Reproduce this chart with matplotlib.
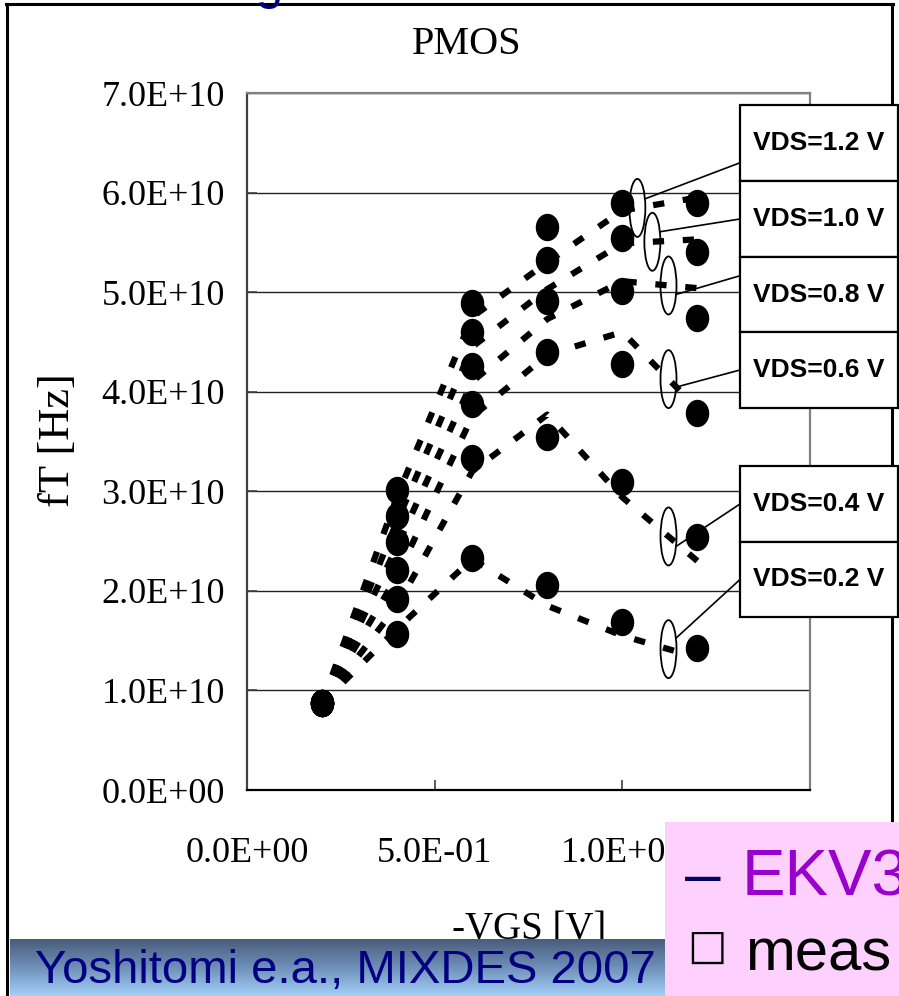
import numpy as np
import matplotlib
matplotlib.use("Agg")
import matplotlib.pyplot as plt
from matplotlib.patches import Rectangle, Ellipse, ConnectionPatch
from matplotlib.lines import Line2D
from matplotlib.path import Path
from matplotlib.ticker import FuncFormatter
from matplotlib.colors import LinearSegmentedColormap

# -VGS [V]
vgs = np.array([0.2, 0.4, 0.6, 0.8, 1.0, 1.2])
vds_labels = ["VDS=1.2 V", "VDS=1.0 V", "VDS=0.8 V", "VDS=0.6 V", "VDS=0.4 V", "VDS=0.2 V"]

# measured fT, in units of 1E10 Hz
meas_12 = [0.87, 3.01, 4.89, 5.65, 5.90, 5.90]
meas_10 = [0.87, 2.75, 4.60, 5.32, 5.54, 5.40]
meas_08 = [0.87, 2.49, 4.26, 4.91, 5.01, 4.74]
meas_06 = [0.87, 2.21, 3.88, 4.40, 4.28, 3.79]
meas_04 = [0.87, 1.92, 3.33, 3.55, 3.09, 2.54]
meas_02 = [0.87, 1.57, 2.33, 2.06, 1.69, 1.43]

# EKV3 model fT, in units of 1E10 Hz
ekv_12 = [0.87, 2.95, 4.75, 5.30, 5.82, 5.95]
ekv_10 = [0.87, 2.70, 4.45, 5.03, 5.49, 5.53]
ekv_08 = [0.87, 2.45, 4.10, 4.73, 5.11, 5.04]
ekv_06 = [0.87, 2.15, 3.75, 4.37, 4.60, 3.83]
ekv_04 = [0.87, 1.85, 3.20, 3.77, 2.94, 2.30]
ekv_02 = [0.87, 1.62, 2.32, 1.85, 1.55, 1.33]

meas = [meas_12, meas_10, meas_08, meas_06, meas_04, meas_02]
ekv = [ekv_12, ekv_10, ekv_08, ekv_06, ekv_04, ekv_02]

# -VGS where each callout ellipse sits on its model curve
callout_x = [1.04, 1.08, 1.123, 1.123, 1.123, 1.123]

W, H = 899, 996
def fx(x):
    return x / W
def fy(y):
    return 1 - y / H

serif = "Liberation Serif"
sans = "Liberation Sans"

fig = plt.figure(figsize=(W / 100, H / 100), dpi=100)
fig.patch.set_facecolor("white")

# slide frame + bit of the slide title sticking in from above
fig.add_artist(Line2D([fx(7), fx(7)], [0, fy(4)], color="black", lw=2.2, transform=fig.transFigure, zorder=1))
fig.add_artist(Line2D([fx(6), fx(893)], [fy(4), fy(4)], color="black", lw=2.2, transform=fig.transFigure, zorder=1))
fig.add_artist(Line2D([fx(892), fx(892)], [fy(4), 0], color="black", lw=2.2, transform=fig.transFigure, zorder=1))
fig.text(fx(269), fy(-1), "g", color="#000080", fontsize=35, family=sans, ha="center", va="baseline", zorder=2)

ax = fig.add_axes([fx(247), fy(790), fx(810) - fx(247), fy(93) - fy(790)])
ax.set_facecolor("none")

circ = Path.unit_circle()
dot = Path(circ.vertices * [0.85, 1.0], circ.codes)

for m, e in zip(meas, ekv):
    ax.plot(vgs, np.array(e) * 1e10, color="black", lw=4.5, dashes=(1.8, 3.0),
            dash_capstyle="butt", zorder=3)
for m, e in zip(meas, ekv):
    ax.plot(vgs, np.array(m) * 1e10, ls="none", marker=dot, ms=18.7, color="black", zorder=4)

ax.set_xlim(0, 1.5)
ax.set_ylim(0, 7e10)
ax.set_xticks([0, 0.5, 1.0, 1.5])
ax.set_yticks(np.arange(0, 7.1e10, 1e10))
fmt = FuncFormatter(lambda v, p: "%.1E" % v)
ax.xaxis.set_major_formatter(fmt)
ax.yaxis.set_major_formatter(fmt)
ax.set_axisbelow(True)
ax.yaxis.grid(True, color="#222222", lw=1.0)
ax.tick_params(axis="y", direction="in", length=7, width=1.2, color="#404040", pad=16, labelsize=26)
ax.tick_params(axis="x", direction="in", length=7, width=1.2, color="#404040", pad=34, labelsize=26)
for lab in ax.get_xticklabels() + ax.get_yticklabels():
    lab.set_family(serif)
ax.spines["top"].set_color("#808080")
ax.spines["right"].set_color("#808080")
ax.spines["left"].set_color("#404040")
ax.spines["bottom"].set_color("black")
for s in ax.spines.values():
    s.set_linewidth(1.6)

ax.set_ylabel("fT [Hz]", fontsize=32, family=serif)
ax.yaxis.set_label_coords(-0.3, 0.502)
ax.set_xlabel("-VGS [V]", fontsize=28, family=serif, va="center")
ax.xaxis.set_label_coords(0.501, -0.2)

fig.text(fx(467), fy(44), "PMOS", fontsize=29, family=serif, ha="center", va="center")

# callout ellipses on the model curves
ell_w = 16 / 375
ell_h = 58 * 7e10 / 697
ends = []
end_dy = [-9, -10, 9, 8, 10, -11]   # px, where the leader touches the ellipse
for cx, e, dy in zip(callout_x, ekv, end_dy):
    cy = np.interp(cx, vgs, e) * 1e10
    ax.add_patch(Ellipse((cx, cy), ell_w, ell_h, fill=False, ec="black", lw=1.3, zorder=5))
    ends.append((cx + 7.5 / 375, cy - dy * 7e10 / 697))

# label boxes on the right
box_top = [105, 181, 257, 332, 466, 542]
box_bot = [181, 257, 332, 408, 542, 617]
anchor = [0.76, 0.5, 0.25, 0.5, 0.5, 0.5]
for lab, t, b, a, end in zip(vds_labels, box_top, box_bot, anchor, ends):
    fig.add_artist(Rectangle((fx(740), fy(b)), fx(898) - fx(740), fy(t) - fy(b), fc="white",
                             ec="black", lw=1.6, transform=fig.transFigure, zorder=6))
    fig.text(fx(819), fy((t + b) / 2), lab, fontsize=19, fontweight="bold", family=sans,
             ha="center", va="center", zorder=7)
    ya = t + a * (b - t)
    con = ConnectionPatch(xyA=(fx(740), fy(ya)), coordsA=fig.transFigure, xyB=end,
                          coordsB=ax.transData, color="black", lw=1.2, zorder=5)
    fig.add_artist(con)

# citation banner with gradient
bax = fig.add_axes([fx(10), 0, fx(665) - fx(10), fy(939)], zorder=10)
grad = np.linspace(0, 1, 100).reshape(-1, 1)
cmap = LinearSegmentedColormap.from_list("ban", ["#4a5b79", "#6e8fb8", "#a2d0f8"])
bax.imshow(grad, aspect="auto", cmap=cmap, extent=[0, 1, 0, 1])
bax.set_axis_off()
fig.text(fx(35), fy(983), "Yoshitomi e.a., MIXDES 2007", color="#000080", fontsize=34,
         family=sans, ha="left", va="baseline", zorder=12)

# pink legend box
fig.add_artist(Rectangle((fx(665), 0), 1 - fx(665), fy(822), fc="#fdd0fd", ec="none",
                         transform=fig.transFigure, zorder=11))
fig.text(fx(685), fy(895), "\u2013", color="#000066", fontsize=46, family=sans,
         ha="left", va="baseline", zorder=12)
fig.text(fx(742), fy(895), "EKV3", color="#9900cc", fontsize=47, family=sans,
         ha="left", va="baseline", zorder=12)
fig.text(fx(687), fy(959), "\u25a1", color="black", fontsize=30, family="DejaVu Sans",
         ha="left", va="baseline", zorder=12)
fig.text(fx(745), fy(970), "meas", color="black", fontsize=43, family=sans,
         ha="left", va="baseline", zorder=12)

fig.savefig("out.png", dpi=100)
